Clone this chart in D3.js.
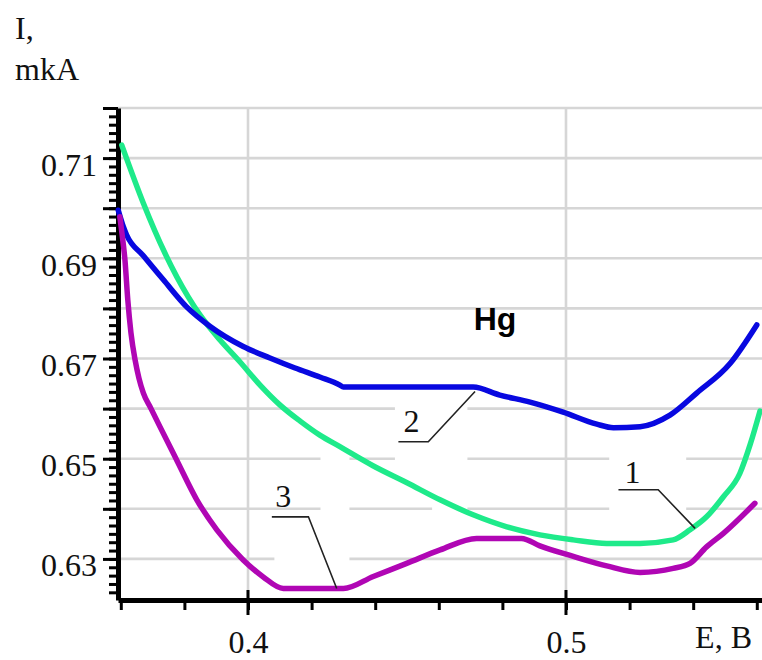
<!DOCTYPE html>
<html><head><meta charset="utf-8">
<script src="https://cdn.jsdelivr.net/npm/d3@7"></script>
<style>html,body{margin:0;padding:0;background:#fff;} svg{display:block}</style>
</head><body>
<script>
// ---------- data (E in V, I in mkA) ----------
const curve1E = [0.3603,0.3671,0.3739,0.3812,0.3849,0.3912,0.3975,0.4038,0.4101,0.4164,0.4226,0.4289,0.4393,0.4500,0.4604,0.4708,0.4814,0.4918,0.5023,0.5128,0.5233,0.5337,0.5390,0.5442,0.5495,0.5547,0.5580,0.5610];
const curve1I = [0.7126,0.7010,0.6910,0.6823,0.6787,0.6737,0.6693,0.6647,0.6607,0.6575,0.6547,0.6524,0.6486,0.6452,0.6418,0.6388,0.6364,0.6348,0.6338,0.6331,0.6331,0.6338,0.6358,0.6384,0.6424,0.6471,0.6530,0.6595];

const curve2E = [0.3592,0.3608,0.3618,0.3671,0.3734,0.3807,0.3881,0.3985,0.4069,0.4148,0.4226,0.4289,0.4300,0.4478,0.4708,0.4792,0.4887,0.4991,0.5097,0.5149,0.5233,0.5327,0.5411,0.5516,0.5600];
const curve2I = [0.6996,0.6963,0.6947,0.6905,0.6857,0.6803,0.6764,0.6724,0.6701,0.6681,0.6663,0.6647,0.6643,0.6643,0.6643,0.6627,0.6613,0.6593,0.6569,0.6562,0.6564,0.6587,0.6631,0.6690,0.6767];

const curve3E = [0.3597,0.3603,0.3613,0.3622,0.3632,0.3645,0.3657,0.3671,0.3695,0.3723,0.3776,0.3839,0.3902,0.3985,0.4048,0.4111,0.4300,0.4394,0.4499,0.4604,0.4719,0.4860,0.4918,0.5023,0.5128,0.5233,0.5337,0.5390,0.5442,0.5495,0.5594];
const curve3I = [0.6983,0.6953,0.6897,0.6817,0.6751,0.6697,0.6661,0.6631,0.6600,0.6564,0.6497,0.6418,0.6358,0.6298,0.6264,0.6241,0.6241,0.6265,0.6291,0.6318,0.6341,0.6341,0.6326,0.6305,0.6286,0.6273,0.6281,0.6291,0.6324,0.6351,0.6411];

const seriesLabels = ["1","2","3"];
const xTickValues = [0.36,0.38,0.40,0.42,0.44,0.46,0.48,0.50,0.52,0.54,0.56];
const xTickLabels = [0.4,0.5];
const yGridValues = [0.63,0.64,0.65,0.66,0.67,0.68,0.69,0.70,0.71,0.72];
const yTickLabels = [0.63,0.65,0.67,0.69,0.71];
const xGridValues = [0.4,0.5];
const yMinorPerStep = 6;

// label annotations in data units: text point, underline start/end, target on curve
const annLabelE  = [0.5209,0.4514,0.4111];
const annLabelI  = [0.6452,0.6553,0.6404];
const annLineE0  = [0.5165,0.4473,0.4075];
const annLineE1  = [0.5290,0.4567,0.4190];
const annLineI   = [0.6438,0.6534,0.6384];
const annTargetE = [0.5406,0.4714,0.4279];
const annTargetI = [0.6361,0.6634,0.6241];

// ---------- drawing ----------
const W = 762, H = 660;
const svg = d3.select("body").append("svg").attr("width", W).attr("height", H)
  .style("background", "#fff");

const x = d3.scaleLinear().domain([0.35912, 0.56164]).range([118, 762]);
const y = d3.scaleLinear().domain([0.6218, 0.72]).range([600, 108]);

const serif = "'Liberation Serif','Times New Roman',serif";
const colors = ["#1eea8a", "#0808e0", "#b006b4"];

// grid
const grid = svg.append("g");
grid.selectAll("line.h").data(yGridValues).join("line")
  .attr("x1", x.range()[0]).attr("x2", x.range()[1])
  .attr("y1", d => y(d)).attr("y2", d => y(d))
  .attr("stroke", "#d6d6d6").attr("stroke-width", 2.6);
grid.selectAll("line.v").data(xGridValues).join("line")
  .attr("x1", d => x(d)).attr("x2", d => x(d))
  .attr("y1", y.range()[1]).attr("y2", y.range()[0])
  .attr("stroke", "#d6d6d6").attr("stroke-width", 2.6);

// white boxes behind the curve labels (interrupt the grid as in the source)
const masks = [
  [0.4462, 0.4690, 0.6623, 0.6485],
  [0.4579, 0.4690, 0.6485, 0.6390],
  [0.5136, 0.5378, 0.6510, 0.6370],
  [0.4083, 0.4319, 0.6393, 0.6223],
  [0.4228, 0.4319, 0.6520, 0.6393]
];
svg.append("g").selectAll("rect").data(masks).join("rect")
  .attr("x", d => x(d[0])).attr("width", d => x(d[1]) - x(d[0]))
  .attr("y", d => y(d[2])).attr("height", d => y(d[3]) - y(d[2]))
  .attr("fill", "#fff");

// axes
const yMinor = d3.range(0, 60).map(i => 0.72 - i * 0.01 / yMinorPerStep).filter(v => v >= 0.6218);
const gyMinor = svg.append("g").attr("transform", `translate(${x.range()[0]},0)`)
  .call(d3.axisLeft(y).tickValues(yMinor).tickSize(9).tickSizeOuter(0).tickFormat(""));
gyMinor.select(".domain").remove();
gyMinor.selectAll(".tick line").attr("stroke", "#000").attr("stroke-width", 3);

const isYLabel = d => yTickLabels.some(v => Math.abs(v - d) < 1e-6);
const gy = svg.append("g").attr("transform", `translate(${x.range()[0]},0)`)
  .call(d3.axisLeft(y).tickValues(yGridValues).tickSize(15).tickSizeOuter(0).tickPadding(6)
    .tickFormat(d => isYLabel(d) ? d.toFixed(2) : ""));
gy.select(".domain").attr("stroke", "#000").attr("stroke-width", 5);
gy.selectAll(".tick line").attr("stroke", "#000").attr("stroke-width", 3);
gy.selectAll(".tick text").attr("font-family", serif).attr("font-size", 32)
  .attr("fill", "#111").attr("dy", "0.53em");

const isXLabel = d => xTickLabels.some(v => Math.abs(v - d) < 1e-6);
const gx = svg.append("g").attr("transform", `translate(0,${y.range()[0]})`)
  .call(d3.axisBottom(x).tickValues(xTickValues).tickSize(10).tickSizeOuter(0).tickPadding(20)
    .tickFormat(d => isXLabel(d) ? String(d) : ""));
gx.select(".domain").attr("stroke", "#000").attr("stroke-width", 5);
gx.selectAll(".tick line").attr("stroke", "#000").attr("stroke-width", 3);
gx.selectAll(".tick text").attr("font-family", serif).attr("font-size", 32).attr("fill", "#111");
// crossing major ticks
svg.append("g").selectAll("line").data(xTickLabels).join("line")
  .attr("x1", d => x(d)).attr("x2", d => x(d))
  .attr("y1", y.range()[0] - 10).attr("y2", y.range()[0] + 15)
  .attr("stroke", "#000").attr("stroke-width", 3);

// curves
const series = [
  curve1E.map((e, i) => [e, curve1I[i]]),
  curve2E.map((e, i) => [e, curve2I[i]]),
  curve3E.map((e, i) => [e, curve3I[i]])
];
const line = d3.line().x(d => x(d[0])).y(d => y(d[1])).curve(d3.curveMonotoneX);
svg.append("g").selectAll("path").data(series).join("path")
  .attr("d", line).attr("fill", "none")
  .attr("stroke", (d, i) => colors[i]).attr("stroke-width", 5.5)
  .attr("stroke-linejoin", "round").attr("stroke-linecap", "round");

// label leaders
const ann = svg.append("g");
seriesLabels.forEach((lab, i) => {
  ann.append("polyline")
    .attr("points", [[x(annLineE0[i]), y(annLineI[i])], [x(annLineE1[i]), y(annLineI[i])], [x(annTargetE[i]), y(annTargetI[i])]].map(p => p.join(",")).join(" "))
    .attr("fill", "none").attr("stroke", "#222").attr("stroke-width", 1.6);
  ann.append("text").attr("x", x(annLabelE[i])).attr("y", y(annLabelI[i]))
    .attr("text-anchor", "middle").attr("font-family", serif).attr("font-size", 32)
    .attr("fill", "#111").text(lab);
});

// element label
svg.append("text").attr("x", 495).attr("y", 330).attr("text-anchor", "middle")
  .attr("font-family", "'Liberation Sans',Arial,sans-serif").attr("font-weight", "bold")
  .attr("font-size", 32).attr("fill", "#000").text("Hg");

// axis titles
svg.append("text").attr("x", 15).attr("y", 39).attr("font-family", serif)
  .attr("font-size", 32).attr("fill", "#111").text("I,");
svg.append("text").attr("x", 15).attr("y", 80).attr("font-family", serif)
  .attr("font-size", 32).attr("fill", "#111").text("mkA");
svg.append("text").attr("x", 752).attr("y", 648).attr("text-anchor", "end").attr("font-family", serif)
  .attr("font-size", 32).attr("fill", "#111").text("E, B");
</script>
</body></html>
